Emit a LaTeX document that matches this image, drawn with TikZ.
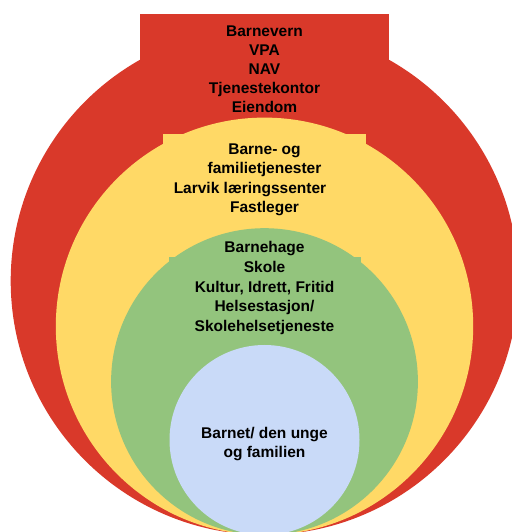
\documentclass[tikz,border=0pt]{standalone}
\usepackage{fontspec}
\setmainfont{Liberation Sans}
\definecolor{ringred}{RGB}{217,57,42}
\definecolor{ringyellow}{RGB}{255,217,102}
\definecolor{ringgreen}{RGB}{147,196,125}
\definecolor{ringblue}{RGB}{201,218,248}
\tikzset{
  lbl/.style={font=\fontsize{15.5}{19}\selectfont\bfseries, anchor=base, inner sep=0pt, text=black},
}
\begin{document}
\begin{tikzpicture}[x=1pt,y=1pt]
\useasboundingbox (0,0) rectangle (511,532);
% red ring
\fill[ringred] (264.5,251) circle (253.8);
\fill[ringred] (140,518) rectangle (389,420);
% yellow ring
\fill[ringyellow] (264.5,205.7) circle (208.7);
\fill[ringyellow] (163,398) rectangle (366,360);
% green ring
\fill[ringgreen] (264.5,150.4) circle (153.4);
\fill[ringgreen] (169,275) rectangle (361,240);
% blue centre
\fill[ringblue] (264.5,92) circle (95);
% texts
\node[lbl] (r1) at (264.5,495) {Barnevern};
\node[lbl] (r2) at (264.5,476) {VPA};
\node[lbl] (r3) at (264.5,457) {NAV};
\node[lbl] (r4) at (264.5,438) {Tjenestekontor};
\node[lbl] (r5) at (264.5,419) {Eiendom};
\node[lbl] (y1) at (264.5,377) {Barne- og};
\node[lbl] (y2) at (264.5,358) {familietjenester};
\node[lbl] (y3) at (250,338.5) {Larvik læringssenter};
\node[lbl] (y4) at (264.5,319) {Fastleger};
\node[lbl] (g1) at (264.5,279) {Barnehage};
\node[lbl] (g2) at (264.5,259) {Skole};
\node[lbl] (g3) at (264.5,239.5) {Kultur, Idrett, Fritid};
\node[lbl] (g4) at (264.5,220) {Helsestasjon/};
\node[lbl] (g5) at (264.5,200) {Skolehelsetjeneste};
\node[lbl] (b1) at (264.5,93) {Barnet/ den unge};
\node[lbl] (b2) at (264.5,74) {og familien};
\end{tikzpicture}
\end{document}
